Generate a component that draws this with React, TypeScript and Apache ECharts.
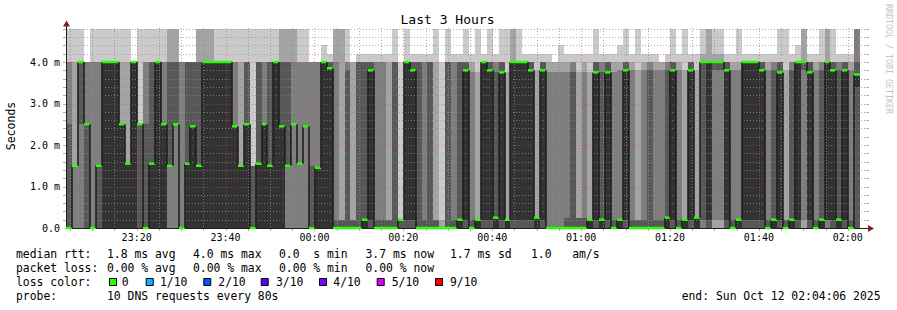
import { useEffect, useRef } from 'react';
import * as echarts from 'echarts';

// time axis in minutes relative to 00:00 (23:04:06 .. 02:04:06)
const T_START = -55.9;
const T_END = 124.1;
const STEP_MIN = 80 / 60; // one probe round every 80 s
const Y_MAX = 4.82;

const majorTimes = [-40, -20, 0, 20, 40, 60, 80, 100, 120];
const minorTimes = [-55, -50, -45, -35, -30, -25, -15, -10, -5, 5, 10, 15, 25, 30, 35, 45, 50, 55, 65, 70, 75, 85, 90, 95, 105, 110, 115];
const majorValues = [1, 2, 3, 4];
const minorValues = [0.2, 0.4, 0.6, 0.8, 1.2, 1.4, 1.6, 1.8, 2.2, 2.4, 2.6, 2.8, 3.2, 3.4, 3.6, 3.8, 4.2, 4.4, 4.6, 4.8];
const yLabelValues = [0, 1, 2, 3, 4];

// median rtt (ms) per 80 s step
const medians = [
  0, 1.5, 4.0, 2.5, 0, 1.5, 4.0, 4.0, 4.0, 2.5,
  1.55, 4.0, 2.5, 0, 1.55, 4.0, 2.5, 1.5, 2.5, 0,
  1.55, 2.45, 1.5, 4.0, 4.0, 4.0, 4.0, 4.0, 2.45, 1.5,
  2.5, 0, 1.55, 2.5, 1.5, 4.0, 2.45, 1.5, 2.5, 1.55,
  2.45, 0, 1.45, 4.0, 3.85, 0, 0, 0, 0, 0,
  0.2, 3.8, 0, 0, 0, 0, 0.2, 4.0, 3.8, 0,
  0, 0, 0, 0, 0, 0, 0.2, 3.8, 0, 0.2,
  4.0, 3.8, 0.25, 3.75, 0.2, 4.0, 4.0, 4.0, 3.8, 0.25,
  3.8, 0, 0, 0, 0, 0, 0, 0, 0.2, 3.75,
  0.2, 3.75, 0, 0.2, 3.8, 0, 0, 0, 0, 0,
  0, 0.25, 3.8, 0, 0.2, 3.8, 0.25, 4.0, 4.0, 4.0,
  4.0, 3.8, 0, 0.2, 4.0, 4.0, 4.0, 3.8, 0, 0.2,
  3.75, 0, 0.2, 4.0, 4.0, 3.75, 0, 0.2, 4.0, 3.8,
  0.2, 3.8, 0, 3.7,
];

// the 10 sorted ping times (ms) of each step
const pings = [
  [0, 0, 0, 0, 0, 0, 2.5, 4, 4, 4.8],
  [0, 0, 0, 1.5, 1.5, 1.5, 1.5, 1.5, 4, 4.8],
  [0, 0, 0, 2.5, 4, 4, 4, 4, 4, 4.8],
  [0, 0, 0, 0, 2.5, 2.5, 2.5, 4, 4, 4],
  [0, 0, 0, 0, 0, 0, 0, 4, 4, 4.8],
  [0, 0, 0, 0, 1.5, 1.5, 1.5, 4, 4, 4.8],
  [0, 0, 0, 0, 0, 4, 4, 4, 4, 4.8],
  [0, 0, 0, 0, 0, 4, 4, 4, 4, 4.8],
  [0, 0, 0, 0, 0, 4, 4, 4, 4, 4.8],
  [0, 0, 0, 0, 0, 2.5, 2.5, 2.5, 4, 4.8],
  [0, 0, 0, 0, 0, 1.55, 1.55, 1.55, 4, 4.8],
  [0, 0, 0, 0, 0, 4, 4, 4, 4, 4],
  [0, 0, 0, 0, 2.5, 2.5, 2.5, 2.5, 2.5, 4.8],
  [0, 0, 0, 0, 0, 0, 2.5, 4, 4, 4.8],
  [0, 0, 0, 0, 0, 1.55, 4, 4, 4, 4.8],
  [0, 0, 0, 0, 0, 4, 4, 4, 4, 4.8],
  [0, 0, 0, 0, 0, 2.5, 2.5, 4, 4, 4.8],
  [0, 0, 0, 1.5, 1.5, 1.5, 4, 4, 4.8, 4.8],
  [0, 0, 0, 2.5, 2.5, 2.5, 4, 4, 4.8, 4.8],
  [0, 0, 0, 0, 0, 0, 0, 4, 4, 4],
  [0, 0, 0, 0, 0, 1.55, 4, 4, 4, 4],
  [0, 0, 0, 0, 0, 2.45, 4, 4, 4, 4],
  [0, 0, 0, 0, 0, 1.5, 4, 4, 4.8, 4.8],
  [0, 0, 0, 0, 0, 4, 4, 4, 4.8, 4.8],
  [0, 0, 0, 0, 0, 4, 4, 4, 4.8, 4.8],
  [0, 0, 0, 0, 0, 4, 4, 4, 4, 4.8],
  [0, 0, 0, 0, 0, 4, 4, 4, 4, 4.8],
  [0, 0, 0, 0, 0, 4, 4, 4, 4, 4.8],
  [0, 0, 0, 0, 0, 2.45, 2.45, 4, 4, 4.8],
  [0, 0, 0, 0, 0, 1.5, 1.5, 1.5, 4, 4.8],
  [0, 0, 0, 0, 0, 2.5, 4, 4, 4, 4.8],
  [0, 0, 0, 0, 0, 0, 1.5, 1.5, 1.5, 4.8],
  [0, 0, 0, 0, 0, 1.55, 4, 4, 4, 4.8],
  [0, 0, 0, 0, 0, 2.5, 2.5, 4, 4, 4.8],
  [0, 0, 0, 0, 0, 1.5, 4, 4, 4, 4.8],
  [0, 0, 0, 0, 0, 4, 4, 4, 4, 4.8],
  [0, 0, 0, 0, 0, 2.45, 4, 4, 4.8, 4.8],
  [0, 0, 0, 1.5, 1.5, 1.5, 4, 4, 4.8, 4.8],
  [0, 0, 0, 2.5, 2.5, 2.5, 2.5, 4, 4.8, 4.8],
  [0, 0, 0, 1.55, 1.55, 1.55, 1.55, 4, 4, 4.8],
  [0, 0, 0, 2.45, 2.45, 2.45, 2.45, 4, 4, 4.8],
  [0, 0, 0, 0, 0, 0, 1.5, 4, 4, 4],
  [0, 0, 0, 0, 0, 1.45, 1.45, 4, 4, 4],
  [0, 0, 0, 0, 0, 4, 4, 4, 4, 4.4],
  [0, 0, 0, 0, 0, 3.85, 4, 4, 4, 4.2],
  [0, 0, 0, 0, 0, 0, 0.2, 4, 4.8, 4.8],
  [0, 0, 0, 0, 0, 0, 0.2, 0.2, 4.8, 4.8],
  [0, 0, 0, 0, 0, 0, 3.8, 4, 4, 4.8],
  [0, 0, 0, 0, 0, 0, 0.2, 0.2, 4, 4],
  [0, 0, 0, 0, 0, 0, 4, 4, 4, 4.2],
  [0, 0, 0, 0, 0, 0.2, 4, 4, 4, 4.2],
  [0, 0, 0, 0, 0.2, 3.8, 4, 4, 4, 4.2],
  [0, 0, 0, 0, 0, 0, 0.2, 4, 4, 4.2],
  [0, 0, 0, 0, 0, 0, 0.2, 4, 4, 4.2],
  [0, 0, 0, 0, 0, 0, 0.2, 0.2, 4, 4.2],
  [0, 0, 0, 0, 0, 0, 4, 4, 4, 4.8],
  [0, 0, 0, 0, 0.2, 0.2, 0.2, 0.2, 0.2, 4],
  [0, 0, 0, 0, 0.2, 4, 4, 4, 4, 4.8],
  [0, 0, 0, 0, 0.2, 3.8, 4, 4, 4, 4.2],
  [0, 0, 0, 0, 0, 0, 4, 4, 4, 4.2],
  [0, 0, 0, 0, 0, 0, 0.2, 4, 4, 4.2],
  [0, 0, 0, 0, 0, 0, 4, 4, 4, 4.2],
  [0, 0, 0, 0, 0, 0, 0.2, 0.2, 4, 4.8],
  [0, 0, 0, 0, 0, 0, 0, 0, 0.2, 4],
  [0, 0, 0, 0, 0, 0, 4, 4, 4, 4.8],
  [0, 0, 0, 0, 0, 0, 0.2, 4, 4, 4.2],
  [0, 0, 0, 0, 0, 0.2, 4, 4, 4, 4.2],
  [0, 0, 0, 0, 0.2, 3.8, 4, 4, 4, 4.8],
  [0, 0, 0, 0, 0, 0, 0.2, 3.75, 4, 4.2],
  [0, 0, 0, 0, 0, 0.2, 0.2, 0.2, 3.75, 4.8],
  [0, 0, 0, 0, 0.2, 4, 4, 4, 4, 4.2],
  [0, 0, 0, 0, 0.2, 3.8, 4, 4, 4, 4.8],
  [0, 0, 0, 0, 0, 0.25, 3.75, 4, 4, 4.2],
  [0, 0, 0, 0, 0.2, 3.75, 4, 4, 4, 4.8],
  [0, 0, 0, 0, 0, 0.2, 0.2, 0.2, 3.75, 4.8],
  [0, 0, 0, 0, 0.2, 4, 4, 4, 4.8, 4.8],
  [0, 0, 0, 0, 0.2, 4, 4, 4, 4, 4.8],
  [0, 0, 0, 0, 0.2, 4, 4, 4, 4, 4.2],
  [0, 0, 0, 0, 0.2, 3.8, 4, 4, 4, 4.2],
  [0, 0, 0, 0, 0, 0.25, 0.25, 0.25, 3.8, 4.2],
  [0, 0, 0, 0, 0.2, 3.8, 4, 4, 4, 4.2],
  [0, 0, 0, 0, 0, 0, 0, 3.75, 4, 4.2],
  [0, 0, 0, 0, 0, 0, 0, 3.75, 4, 4],
  [0, 0, 0, 0, 0, 0, 0, 3.75, 4, 4.4],
  [0, 0, 0, 0, 0, 0, 0.25, 3.75, 4, 4.2],
  [0, 0, 0, 0, 0, 0, 3.75, 4, 4, 4.2],
  [0, 0, 0, 0, 0, 0, 0.25, 0.25, 3.75, 4.2],
  [0, 0, 0, 0, 0, 0, 0.25, 3.75, 4, 4.2],
  [0, 0, 0, 0, 0, 0.2, 0.2, 0.2, 3.75, 4.2],
  [0, 0, 0, 0, 0.2, 3.75, 4, 4, 4, 4.8],
  [0, 0, 0, 0, 0, 0.2, 3.75, 4, 4, 4.2],
  [0, 0, 0, 0, 0.2, 3.75, 4, 4, 4, 4.2],
  [0, 0, 0, 0, 0, 0, 0.2, 3.75, 4, 4.2],
  [0, 0, 0, 0, 0, 0.2, 0.2, 3.8, 4, 4.4],
  [0, 0, 0, 0, 0.2, 3.8, 4, 4, 4, 4.8],
  [0, 0, 0, 0, 0, 0, 0.2, 3.8, 4, 4.2],
  [0, 0, 0, 0, 0, 0, 0.2, 0.2, 3.8, 4.8],
  [0, 0, 0, 0, 0, 0, 0.2, 3.8, 4, 4.2],
  [0, 0, 0, 0, 0, 0, 3.8, 4, 4, 4.2],
  [0, 0, 0, 0, 0, 0, 0.2, 3.8, 4, 4.2],
  [0, 0, 0, 0, 0, 0, 0.2, 3.8, 4, 4],
  [0, 0, 0, 0, 0, 0.25, 3.8, 4, 4, 4.2],
  [0, 0, 0, 0, 0.2, 3.8, 4, 4, 4, 4.8],
  [0, 0, 0, 0, 0, 0, 0.2, 3.8, 4, 4.2],
  [0, 0, 0, 0, 0, 0.2, 0.2, 0.2, 3.8, 4.8],
  [0, 0, 0, 0, 0.2, 3.8, 4, 4, 4, 4.2],
  [0, 0, 0, 0, 0, 0.25, 0.25, 0.25, 3.8, 4.2],
  [0, 0, 0, 0.2, 4, 4, 4, 4, 4.2, 4.8],
  [0, 0, 0, 0, 0.2, 4, 4, 4, 4.8, 4.8],
  [0, 0, 0.2, 3.8, 4, 4, 4, 4, 4.2, 4.8],
  [0, 0, 0.2, 3.8, 4, 4, 4, 4, 4.2, 4.8],
  [0, 0, 0, 0, 0.2, 3.8, 4, 4, 4, 4.2],
  [0, 0, 0, 0, 0, 0, 0.2, 3.8, 4, 4.2],
  [0, 0, 0, 0, 0, 0.2, 0.2, 3.8, 4, 4.8],
  [0, 0, 0, 0, 0.2, 4, 4, 4, 4, 4.2],
  [0, 0, 0, 0, 0.2, 4, 4, 4, 4, 4.2],
  [0, 0, 0, 0, 0.2, 4, 4, 4, 4, 4.2],
  [0, 0, 0, 0, 0.2, 3.8, 4, 4, 4, 4.2],
  [0, 0, 0, 0, 0, 0, 0.2, 3.8, 4, 4.2],
  [0, 0, 0, 0, 0, 0.2, 3.8, 4, 4, 4.2],
  [0, 0, 0, 0, 0.2, 3.75, 4, 4, 4, 4.8],
  [0, 0, 0, 0, 0, 0, 0.2, 0.2, 3.8, 4.8],
  [0, 0, 0, 0, 0, 0.2, 3.8, 4, 4, 4.2],
  [0, 0, 0, 0, 0.2, 4, 4, 4, 4, 4.4],
  [0, 0, 0.2, 3.8, 4, 4, 4, 4, 4.8, 4.8],
  [0, 0, 0, 0, 0.2, 3.75, 4, 4, 4, 4.2],
  [0, 0, 0, 0, 0, 0, 0.2, 3.8, 4, 4.2],
  [0, 0, 0, 0, 0, 0.2, 3.8, 4, 4, 4.8],
  [0, 0, 0, 0.2, 0.2, 4, 4, 4, 4.8, 4.8],
  [0, 0, 0, 0, 0.2, 3.8, 4, 4, 4, 4.8],
  [0, 0, 0, 0, 0, 0.2, 3.8, 4, 4, 4.2],
  [0, 0, 0, 0, 0.2, 3.8, 4, 4, 4, 4.2],
  [0, 0, 0, 0, 0, 0, 0.2, 3.8, 4, 4.2],
  [0, 0, 0, 0, 3.4, 3.7, 4, 4.8, 4.8, 4.8],
];

const smokeColors = ['#cacaca', '#a4a4a4', '#7e7e7e', '#585858', '#323232'];

const legendRows = [
  ['median rtt:', '1.8 ms avg', '4.0 ms max', '0.0  s min', '3.7 ms now', '1.7 ms sd', '1.0   am/s'],
  ['packet loss:', '0.00 % avg', '0.00 % max', '0.00 % min', '0.00 % now'],
];
const legendCols = [16, 107, 193, 279, 365.5, 450, 531];
const lossLabels = ['0', '1/10', '2/10', '3/10', '4/10', '5/10', '9/10'];
const lossColors = ['#26ff00', '#00b8ff', '#0059ff', '#5e00ff', '#7e00ff', '#dd00ff', '#ff0000'];
const lossSquareX = [109, 145.7, 203.3, 260.7, 319, 376.7, 435];
const lossTextX = [121.7, 160, 218.3, 276, 333.3, 391.7, 450];

const MONO = '"DejaVu Sans Mono", monospace';
const LEG_SIZE = 11.4;

function fmtTime(t: number) {
  const m = ((Math.round(t) % 1440) + 1440) % 1440;
  const h = Math.floor(m / 60);
  const mm = m % 60;
  return String(h).padStart(2, '0') + ':' + String(mm).padStart(2, '0');
}

const crisp = (v: number) => Math.round(v) + 0.5;

function vGrid(color: string) {
  return (params: any, api: any) => {
    const t = api.value(0);
    const top = api.coord([t, Y_MAX]);
    const bot = api.coord([t, 0]);
    const x = crisp(top[0]);
    return {
      type: 'group',
      children: [
        { type: 'line', shape: { x1: x, y1: top[1], x2: x, y2: bot[1] }, style: { stroke: color, lineWidth: 1, lineDash: [1, 2] } },
        { type: 'line', shape: { x1: x, y1: bot[1], x2: x, y2: bot[1] + 3 }, style: { stroke: color, lineWidth: 1 } },
      ],
    };
  };
}

function hGrid(color: string) {
  return (params: any, api: any) => {
    const v = api.value(1);
    const l = api.coord([T_START, v]);
    const r = api.coord([T_END, v]);
    const y = crisp(l[1]);
    return {
      type: 'group',
      children: [
        { type: 'line', shape: { x1: l[0], y1: y, x2: r[0], y2: y }, style: { stroke: color, lineWidth: 1, lineDash: [1, 2] } },
        { type: 'line', shape: { x1: l[0] - 3, y1: y, x2: l[0], y2: y }, style: { stroke: color, lineWidth: 1 } },
        { type: 'line', shape: { x1: r[0], y1: y, x2: r[0] + 3, y2: y }, style: { stroke: color, lineWidth: 1 } },
      ],
    };
  };
}

const GRID_MINOR = 'rgba(143,143,143,0.75)';
const GRID_MAJOR = 'rgba(222,79,79,0.6)';

function buildOption() {
  const graphic: any[] = [
    { type: 'text', x: 447.5, y: 19, style: { text: 'Last 3 Hours', fontFamily: MONO, fontSize: 13, fill: '#000', textAlign: 'center', textVerticalAlign: 'middle' } },
    { type: 'text', x: 11, y: 126, rotation: Math.PI / 2, style: { text: 'Seconds', fontFamily: MONO, fontSize: 11.5, fill: '#000', textAlign: 'center', textVerticalAlign: 'middle' } },
    { type: 'text', x: 888.5, y: 59, rotation: -Math.PI / 2, style: { text: 'RRDTOOL / TOBI OETIKER', fontFamily: MONO, fontSize: 8.3, fill: '#c4c4c4', textAlign: 'center', textVerticalAlign: 'middle' } },
    // axis extensions and arrows
    { type: 'line', shape: { x1: 866, y1: 228.5, x2: 869, y2: 228.5 }, style: { stroke: '#1f1f1f', lineWidth: 1 } },
    { type: 'polygon', shape: { points: [[868, 225], [874, 228.5], [868, 232]] }, style: { fill: '#801f1f' } },
    { type: 'line', shape: { x1: 66.5, y1: 28, x2: 66.5, y2: 25 }, style: { stroke: '#1f1f1f', lineWidth: 1 } },
    { type: 'polygon', shape: { points: [[63, 26.5], [66.5, 20.5], [70, 26.5]] }, style: { fill: '#801f1f' } },
  ];
  const rowY = [254, 268, 282, 296];
  legendRows.forEach((row, r) => {
    row.forEach((txt, c) => {
      graphic.push({ type: 'text', x: legendCols[c], y: rowY[r], style: { text: txt, fontFamily: MONO, fontSize: LEG_SIZE, fill: '#000', textVerticalAlign: 'middle' } });
    });
  });
  graphic.push({ type: 'text', x: legendCols[0], y: rowY[2], style: { text: 'loss color:', fontFamily: MONO, fontSize: LEG_SIZE, fill: '#000', textVerticalAlign: 'middle' } });
  lossLabels.forEach((lab, k) => {
    graphic.push({ type: 'rect', shape: { x: lossSquareX[k] + 0.5, y: 278.5, width: 7, height: 7 }, style: { fill: lossColors[k], stroke: '#000', lineWidth: 1 } });
    graphic.push({ type: 'text', x: lossTextX[k], y: rowY[2], style: { text: lab, fontFamily: MONO, fontSize: LEG_SIZE, fill: '#000', textVerticalAlign: 'middle' } });
  });
  graphic.push({ type: 'text', x: legendCols[0], y: rowY[3], style: { text: 'probe:', fontFamily: MONO, fontSize: LEG_SIZE, fill: '#000', textVerticalAlign: 'middle' } });
  graphic.push({ type: 'text', x: legendCols[1], y: rowY[3], style: { text: '10 DNS requests every 80s', fontFamily: MONO, fontSize: LEG_SIZE, fill: '#000', textVerticalAlign: 'middle' } });
  graphic.push({ type: 'text', x: 880.5, y: rowY[3], style: { text: 'end: Sun Oct 12 02:04:06 2025', fontFamily: MONO, fontSize: LEG_SIZE, fill: '#000', textAlign: 'right', textVerticalAlign: 'middle' } });

  return {
    animation: false,
    backgroundColor: '#ffffff',
    grid: { left: 66, top: 28, width: 800, height: 200, containLabel: false },
    xAxis: {
      type: 'value',
      min: T_START,
      max: T_END,
      z: 3,
      axisLine: { show: true, onZero: false, lineStyle: { color: '#1f1f1f', width: 1 } },
      axisTick: { show: false },
      splitLine: { show: false },
      axisLabel: {
        customValues: majorTimes,
        formatter: (v: number) => fmtTime(v),
        fontFamily: MONO,
        fontSize: 10,
        color: '#000',
        margin: 4,
      },
    },
    yAxis: {
      type: 'value',
      min: 0,
      max: Y_MAX,
      z: 3,
      axisLine: { show: true, onZero: false, lineStyle: { color: '#1f1f1f', width: 1 } },
      axisTick: { show: false },
      splitLine: { show: false },
      axisLabel: {
        customValues: yLabelValues,
        formatter: (v: number) => (v === 0 ? '0.0' : v.toFixed(1) + ' m'),
        fontFamily: MONO,
        fontSize: 10,
        color: '#000',
        margin: 6,
      },
    },
    graphic,
    series: [
      {
        type: 'custom',
        name: 'smoke',
        z: 1,
        silent: true,
        data: pings.map((row, i) => [T_START + i * STEP_MIN, row[5]]),
        renderItem: (params: any, api: any) => {
          const i = params.dataIndex;
          const row = pings[i];
          const x0 = api.value(0);
          const x1 = Math.min(x0 + STEP_MIN, T_END);
          const children: any[] = [];
          for (let k = 0; k < 5; k++) {
            const lo = row[k];
            const hi = row[9 - k];
            if (hi <= lo) continue;
            const a = api.coord([x0, hi]);
            const b = api.coord([x1, lo]);
            const xa = Math.round(a[0]);
            const xb = Math.round(b[0]);
            const ya = Math.round(a[1]);
            const yb = Math.round(b[1]);
            if (yb - ya <= 0) continue;
            children.push({ type: 'rect', shape: { x: xa, y: ya, width: xb - xa, height: yb - ya }, style: { fill: smokeColors[k] } });
          }
          return { type: 'group', children };
        },
      },
      { type: 'custom', name: 'vminor', z: 2, silent: true, data: minorTimes.map((t) => [t, 0]), renderItem: vGrid(GRID_MINOR) },
      { type: 'custom', name: 'vmajor', z: 2, silent: true, data: majorTimes.map((t) => [t, 0]), renderItem: vGrid(GRID_MAJOR) },
      { type: 'custom', name: 'hminor', z: 2, silent: true, data: minorValues.map((v) => [T_START, v]), renderItem: hGrid(GRID_MINOR) },
      { type: 'custom', name: 'hmajor', z: 2, silent: true, data: majorValues.map((v) => [T_START, v]), renderItem: hGrid(GRID_MAJOR) },
      {
        type: 'custom',
        name: 'median',
        z: 5,
        silent: true,
        data: medians.map((m, i) => [T_START + i * STEP_MIN, m]),
        renderItem: (params: any, api: any) => {
          const i = params.dataIndex;
          const x0 = api.value(0);
          const m = api.value(1);
          const x1 = Math.min(x0 + STEP_MIN, T_END);
          const a = api.coord([x0, m]);
          const b = api.coord([x1, m]);
          const xa = Math.round(a[0]);
          const xb = Math.round(b[0]);
          const children: any[] = [];
          if (i > 0) {
            const p = api.coord([x0, medians[i - 1]]);
            children.push({ type: 'line', shape: { x1: xa, y1: p[1], x2: xa, y2: a[1] }, style: { stroke: '#202020', lineWidth: 1.6 } });
          }
          children.push({ type: 'rect', shape: { x: xa, y: a[1] - 1.25, width: xb - xa, height: 2.5 }, style: { fill: '#26ff00' } });
          return { type: 'group', children };
        },
      },
    ],
  };
}

export default function App() {
  const ref = useRef<HTMLDivElement>(null);
  useEffect(() => {
    if (!ref.current) return;
    const chart = echarts.init(ref.current, undefined, { renderer: 'svg' });
    chart.setOption(buildOption() as any);
    return () => chart.dispose();
  }, []);
  return (
    <div
      ref={ref}
      style={{ position: 'absolute', left: 0, top: 0, width: 897, height: 310, background: '#fff' }}
    />
  );
}
